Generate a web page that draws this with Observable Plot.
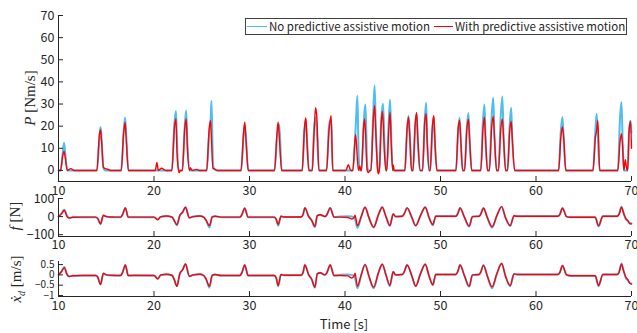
<!DOCTYPE html>
<html>
<head>
<meta charset="utf-8">
<script src="https://cdn.jsdelivr.net/npm/d3@7"></script>
<script src="https://cdn.jsdelivr.net/npm/@observablehq/plot@0.6"></script>
<style>
  html, body { margin: 0; padding: 0; background: #fff; }
  #c { position: relative; width: 637px; height: 333px; background: #fff; overflow: hidden; }
  #c svg { position: absolute; left: 0; overflow: visible; }
  .ylab { position: absolute; white-space: nowrap; font-family: "Liberation Serif", "DejaVu Serif", serif; font-size: 15px; color: #262626; transform: translate(-50%, -50%) rotate(-90deg); }
  .sans { font-family: "Noto Sans CJK JP", "Noto Sans", sans-serif; color: #262626; }
  #legend { position: absolute; left: 245px; top: 18px; width: 380px; height: 15px; border: 1px solid #404040; background: #fff; }
  .lg { position: absolute; top: 7px; height: 0; }
  .lt { position: absolute; top: -1px; font-size: 11.5px; line-height: 16px; white-space: nowrap; }
</style>
</head>
<body>
<div id="c">
  <div id="legend" class="sans">
    <div class="lg" style="left:1px;width:20px;border-top:1.5px solid #4DBEEE"></div>
    <div class="lt" style="left:23px">No predictive assistive motion</div>
    <div class="lg" style="left:188px;width:19px;border-top:1.5px solid #FF0000"></div>
    <div class="lt" style="left:209px">With predictive assistive motion</div>
  </div>
</div>
<script>
// ---- Data ----
const tDomain = [10, 70];
const xTicks = [10, 20, 30, 40, 50, 60, 70];
const pTicks = [0, 10, 20, 30, 40, 50, 60, 70];
const fTicks = [-100, 0, 100];
const vTicks = [-1, -0.5, 0, 0.5];
const pDomain = [-5, 70];
const fDomain = [-110, 100];
const vDomain = [-1.05, 0.65];

// Power P [Nm/s] : time, no-predictive (blue), with-predictive (red)
const pTime = [10.0,
  10.22,10.45,10.58,10.7,10.92, 11.3,11.6,
  14.02,14.28,14.4,14.5,14.7,14.9,15.2,15.4,
  16.57,16.82,16.97,17.08,17.32,
  20.15,20.3,20.45,20.8,21.0,21.2,
  21.87,22.15,22.3,22.4,22.57,22.65,22.75,
  22.97,23.22,23.37,23.5,23.72,23.8,24.0,24.5,24.7,
  25.52,25.78,25.92,26.02,26.17,26.3,26.6,
  29.12,29.38,29.5,29.62,29.87,
  32.62,32.88,33.0,33.12,33.37,
  35.52,35.75,35.9,36.02,36.22,
  36.57,36.75,36.92,37.05,37.27,
  38.07,38.32,38.43,38.55,38.72,
  40.1,40.35,40.6,
  40.82,41.1,41.2,41.3,41.42,41.55,41.65,
  41.72,41.95,42.05,42.15,42.32,42.45,42.6,
  42.72,42.95,43.1,43.22,43.42,43.5,43.6,
  43.6,43.78,43.9,43.98,44.14,44.3,
  44.37,44.6,44.72,44.85,45.0,45.05,45.15,
  46.27,46.5,46.65,46.78,46.97,
  47.12,47.35,47.5,47.62,47.87,
  48.12,48.35,48.5,48.6,48.82,
  48.92,49.15,49.3,49.42,49.62,
  51.62,51.85,52.0,52.12,52.32,
  52.52,52.75,52.92,53.05,53.27,
  54.22,54.45,54.6,54.72,54.92,
  55.12,55.35,55.52,55.65,55.87,
  56.07,56.3,56.48,56.6,56.82,
  57.02,57.25,57.4,57.52,57.77,
  62.37,62.6,62.77,62.9,63.12,
  65.97,66.22,66.35,66.47,66.67,
  68.57,68.8,68.95,69.08,69.2,69.35,69.45,69.55,
  69.6,69.75,69.9,70.0];
const pBlue = [0,
  0,8,12.5,8,0, 0,0,
  0,14,19.6,15,1,0,0,0,
  0,17,23.9,17,0,
  0,0,0,0,0,0,
  0,22,26.8,14,0,0,0,
  0,20,27.1,12,0,0,0,0,0,
  0,17,22,31.5,4,0.5,0,
  0,16,20.5,15,0,
  0,15,19,20.8,0,
  0,18,23,14,0,
  0,18,24,18,0,
  0,20,22.6,21,0,
  0,0,0,
  0,18,27,33.7,8,0,0,
  0,20,27,29.8,2,0,0,
  0,25,38.4,20,1,0,0,
  0,22,28,30.1,12,0,
  0,24,31.9,14,0,0,0,
  0,18,24.7,16,0,
  0,20,25.6,14,0,
  0,23,30.6,14,0,
  0,18,24,12,0,
  0,18,23.8,14,0,
  0,19,26,14,0,
  0,23,29.8,14,0,
  0,24,32.8,16,0,
  0,24,33.4,16,0,
  0,21,28.3,14,0,
  0,18,24.1,14,0,
  0,18,25.6,16,0,
  0,24,30.9,12,0,0,0,0,
  0,18,22.6,17];
const pRed = [0,
  0,7,8.6,6,0, 0.8,0,
  0,16,18.4,14,1.5,0.8,0.5,0,
  0,17,21.7,15,0,
  0,3.6,0,1,0.5,0,
  0,20,23.3,9,0,-1,0,
  0,19,23.3,10,0,1.2,0,0.5,0,
  0,19,22.6,14,1,0.8,0,
  0,17,21.8,15,0,
  0,17,21.8,15,0,
  0,19,23.8,13,0,
  0,16,28.3,24,0,
  0,18,22,24.7,0,
  0,2.6,0,
  0,16.3,12,5,0,2,0,
  0,20,23.3,17,0,-1,0,
  0,22,29.4,18,0,-1.5,0,
  0,20,26.6,23,7,0,
  0,20,26.3,11,0,2.5,0,
  0,19,24.1,16,0,
  0,21,26.2,15,0,
  0,22,25.6,14,0,
  0,20,24.8,13,0,
  0,19,22.6,14,0,
  0,18,23.2,14,0,
  0,19,24.1,14,0,
  0,19,24.4,15,0,
  0,18,23.3,15,0,
  0,18,22.3,14,0,
  0,15,19.6,15,0,
  0,15,18,22.6,0,
  0,13,16.6,10,0,4.8,2,0,
  0,18,22.3,10];

// Force f [N] and velocity xd [m/s] share the same time keyframes
const fTime = [10.0,10.3,10.6,10.9,11.1,11.5,12.5,13.9,14.1,14.4,14.7,15.0,15.5,16.5,16.7,17.0,17.3,18.0,
  20.0,20.4,20.7,21.3,21.9,22.1,22.4,22.7,23.0,23.3,23.7,24.1,24.8,25.2,25.45,25.8,26.1,26.4,27.0,
  29.0,29.2,29.5,29.85,32.6,32.8,33.0,33.3,33.6,35.4,35.6,35.8,36.2,36.5,36.85,37.1,37.4,37.9,
  38.1,38.45,38.85,39.5,40.3,40.7,40.95,41.05,41.3,41.7,42.1,42.5,43.0,43.5,43.9,44.3,44.7,45.05,45.3,
  46.0,46.2,46.5,47.0,47.4,47.9,48.4,48.8,49.2,49.5,51.6,51.8,52.05,52.5,53.0,53.35,54.05,54.2,54.5,
  54.9,55.4,55.9,56.4,56.8,57.3,57.7,58.0,62.3,62.5,62.77,63.2,63.6,66.2,66.55,67.0,68.5,68.7,68.95,
  69.2,69.4,69.6,69.8,70.0];
const fBlue = [0,15,38,5,-8,-3,-3,-3,-10,-42,5,0,-3,-3,10,48,-3,-3,
  -3,-15,-2,2,-3,-20,-48,5,25,52,-7,0,3,-3,-20,-60,-2,2,-3,
  -3,10,46,-3,-3,-15,-50,2,-2,-2,10,48,0,-20,-58,5,10,0,
  10,48,-3,0,2,0,-5,-15,-62,0,52,-5,-60,10,52,-2,-50,15,0,
  2,15,48,-5,-50,5,52,-5,-48,2,2,15,48,-3,-55,0,2,12,48,
  -5,-62,5,55,-5,-52,5,2,2,12,48,0,-4,-4,-55,2,2,15,55,
  15,-15,-22,-35,-38];
const fRed = [0,15,35,0,-8,-4,-3,-3,-10,-40,8,0,-2,-3,10,48,-3,-3,
  -3,-18,0,3,-3,-20,-45,5,25,52,-7,0,3,-3,-20,-50,-2,2,-3,
  -3,10,46,-3,-3,-15,-44,2,-2,-2,10,48,0,-20,-54,5,10,0,
  10,48,-3,-3,-5,-13,-5,8,-50,0,52,-5,-58,10,52,-2,-50,15,0,
  2,15,48,-5,-50,5,52,-5,-44,2,2,15,48,-3,-52,0,2,12,46,
  -5,-56,5,55,-5,-50,5,2,2,12,46,0,-4,-4,-50,2,2,12,52,
  15,-10,-22,-38,-40];
const vBlue = [0,0.15,0.38,0.05,-0.08,-0.04,-0.03,-0.03,-0.1,-0.45,0.05,0,-0.03,-0.03,0.1,0.48,-0.03,-0.02,
  -0.03,-0.18,-0.02,0.02,-0.03,-0.2,-0.55,0.05,0.25,0.53,-0.07,0,0.03,-0.03,-0.2,-0.62,-0.02,0.02,-0.03,
  -0.03,0.1,0.48,-0.03,-0.03,-0.15,-0.55,0.02,-0.02,-0.02,0.1,0.48,0,-0.2,-0.62,0.05,0.1,0,
  0.1,0.48,-0.03,0,0.02,0,-0.05,-0.15,-0.65,0,0.5,-0.05,-0.65,0.1,0.52,-0.02,-0.55,0.15,0,
  0.02,0.15,0.48,-0.05,-0.55,0.05,0.52,-0.05,-0.5,0.02,0.02,0.15,0.48,-0.03,-0.58,0,0.02,0.12,0.48,
  -0.05,-0.65,0.05,0.55,-0.05,-0.55,0.05,0.02,0.02,0.12,0.46,0,-0.04,-0.04,-0.55,0.02,0.02,0.15,0.55,
  0.15,-0.15,-0.25,-0.38,-0.42];
const vRed = [0,0.15,0.35,0,-0.08,-0.04,-0.03,-0.03,-0.1,-0.47,0.08,0,-0.02,-0.03,0.1,0.48,-0.03,-0.03,
  -0.03,-0.2,0,0.03,-0.03,-0.2,-0.55,0.05,0.25,0.53,-0.07,0,0.03,-0.03,-0.2,-0.55,-0.02,0.02,-0.03,
  -0.03,0.1,0.48,-0.03,-0.03,-0.15,-0.52,0.02,-0.02,-0.02,0.1,0.48,0,-0.2,-0.6,0.05,0.1,0,
  0.1,0.48,-0.03,-0.03,-0.05,-0.15,-0.05,0.08,-0.55,0,0.5,-0.05,-0.6,0.1,0.52,-0.02,-0.5,0.15,0,
  0.02,0.15,0.48,-0.05,-0.55,0.05,0.52,-0.05,-0.48,0.02,0.02,0.15,0.48,-0.03,-0.55,0,0.02,0.12,0.46,
  -0.05,-0.58,0.05,0.55,-0.05,-0.52,0.05,0.02,0.02,0.12,0.45,0,-0.04,-0.04,-0.52,0.02,0.02,0.12,0.52,
  0.15,-0.1,-0.22,-0.4,-0.45];

// ---- Drawing ----
const INK = "#262626";
const W = 637, ML = 58, MR = 6;
const fmt = d => (d < 0 ? "\u2212" : "") + String(Math.abs(d));

function panel({top, height, marginTop, marginBottom, yDomain, yTicks, t, blue, red, curve, tickPadding, yFont}) {
  const areaH = height - marginTop - marginBottom;
  const areaW = W - ML - MR;
  const data = t.map((tt, i) => ({t: tt, blue: blue[i], red: red[i]}));
  const svg = Plot.plot({
    width: W, height, marginTop, marginBottom, marginLeft: ML, marginRight: MR,
    style: {fontFamily: '"Noto Sans CJK JP", "Noto Sans", sans-serif', fontSize: "12.5px", color: INK, background: "transparent"},
    x: {domain: tDomain, ticks: xTicks, tickSize: 0, tickPadding: tickPadding, tickFormat: fmt, label: null},
    y: {domain: yDomain, ticks: yTicks, tickSize: 0, tickPadding: 4, tickFormat: fmt, label: null},
    marks: [
      Plot.lineY(data, {x: "t", y: "blue", stroke: "#4DBEEE", strokeWidth: 2, curve}),
      Plot.lineY(data, {x: "t", y: "red", stroke: "#FF0000", strokeWidth: 1.4, curve}),
      Plot.ruleX([tDomain[0]], {stroke: INK, strokeWidth: 1}),
      Plot.ruleY([yDomain[0]], {stroke: INK, strokeWidth: 1}),
      Plot.tickX(xTicks, {x: d => d, insetTop: areaH - 5, stroke: INK}),
      Plot.tickY(yTicks, {y: d => d, insetRight: areaW - 5, stroke: INK})
    ]
  });
  if (yFont) {
    svg.querySelectorAll('g[aria-label^="y-axis"] text').forEach(tx => tx.setAttribute("font-size", yFont));
  }
  svg.style.top = top + "px";
  return svg;
}

const c = document.getElementById("c");
const legend = document.getElementById("legend");
c.insertBefore(panel({top: 0, height: 200, marginTop: 15, marginBottom: 19, yDomain: pDomain, yTicks: pTicks,
  t: pTime, blue: pBlue, red: pRed, curve: "monotone-x", tickPadding: 5}), legend);
c.insertBefore(panel({top: 185, height: 71, marginTop: 13, marginBottom: 20, yDomain: fDomain, yTicks: fTicks,
  t: fTime, blue: fBlue, red: fRed, curve: "monotone-x", tickPadding: 4}), legend);
c.insertBefore(panel({top: 250, height: 66, marginTop: 11, marginBottom: 20, yDomain: vDomain, yTicks: vTicks,
  t: fTime, blue: vBlue, red: vRed, curve: "monotone-x", tickPadding: 5, yFont: "10px"}), legend);

function addLabel(html, x, y, cls, extra) {
  const d = document.createElement("div");
  d.className = cls;
  d.innerHTML = html;
  d.style.left = x + "px";
  d.style.top = y + "px";
  if (extra) Object.assign(d.style, extra);
  c.appendChild(d);
}
addLabel('<i>P</i> [Nm/s]', 30, 98, "ylab");
addLabel('<i>f</i> [N]', 15, 216, "ylab");
addLabel('<i>x&#775;</i><sub style="font-size:10px"><i>d</i></sub> [m/s]', 17, 279, "ylab");
addLabel('Time [s]', 344, 323, "sans", {position: "absolute", transform: "translate(-50%,-50%)", fontSize: "13px", whiteSpace: "nowrap"});
</script>
</body>
</html>
